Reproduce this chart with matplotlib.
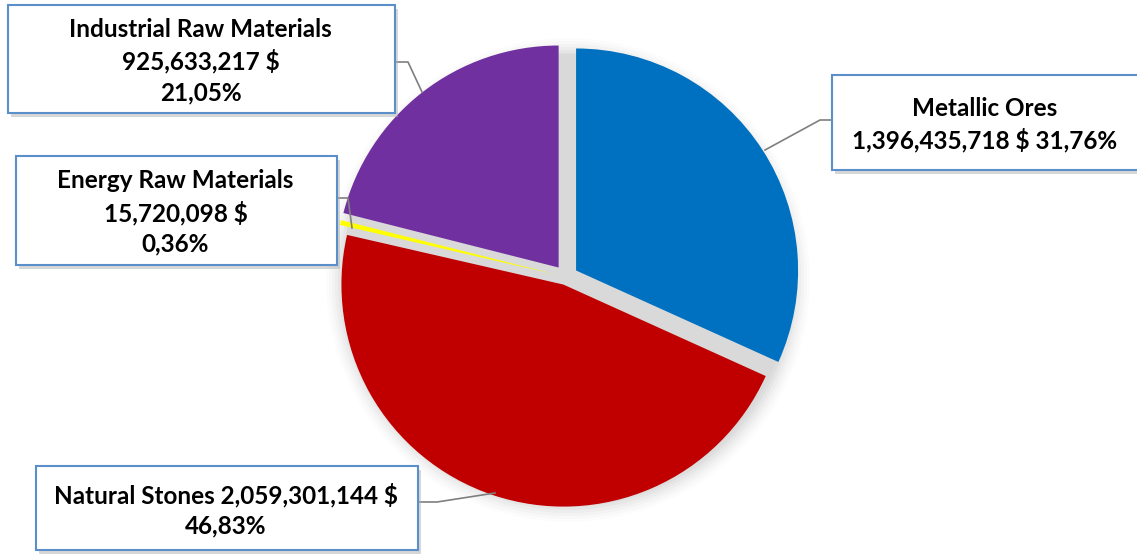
import matplotlib
matplotlib.use("Agg")
import matplotlib.pyplot as plt
from matplotlib.patches import Rectangle, Circle

# data
names = ["Metallic Ores", "Natural Stones", "Energy Raw Materials", "Industrial Raw Materials"]
values = [1396435718, 2059301144, 15720098, 925633217]
colors = ["#0070C0", "#C00000", "#FFFF00", "#7030A0"]
# how name / value / percent are split on lines in each box
seps = [("\n", " "), (" ", "\n"), ("\n", "\n"), ("\n", "\n")]

W, H = 1137, 554
fig = plt.figure(figsize=(W / 100, H / 100), dpi=100)
ax = fig.add_axes([0, 0, 1, 1])

cx, cy, R = 566, 277, 222

# soft shadow behind the pie
for i, a in enumerate([0.025, 0.03, 0.04, 0.05, 0.06, 0.07]):
    ax.add_patch(Circle((cx + 2, cy + 3), R + 20 - 3 * i, color="#808080", alpha=a, lw=0, zorder=0))
ax.add_patch(Circle((cx + 1, cy + 2), R + 3, color="#d9d9d9", lw=0, zorder=0.5))

# y axis is inverted (pixel coords), so startangle=-90 + counterclock draws clockwise from top
# explode is in data units (pixels) here
wedges, _ = ax.pie(values, colors=colors, startangle=-90, counterclock=True,
                   center=(cx, cy), radius=R, explode=[12, 8, 10, 12],
                   wedgeprops=dict(lw=0, zorder=1))

total = sum(values)
labels = []
for n, v, (s1, s2) in zip(names, values, seps):
    pct = f"{100 * v / total:.2f}%".replace(".", ",")
    labels.append(f"{n}{s1}{v:,} ${s2}{pct}")

# boxes: x0, y0, x1, y1 (pixels, y down)
boxes = [(832, 75, 1145, 170), (36, 466, 418, 550), (16, 156, 337, 265), (8, 5, 395, 113)]
leaders = [
    [(765, 150), (820, 120), (832, 120)],
    [(495, 493), (437, 502), (418, 502)],
    [(352, 228), (348, 198), (337, 198)],
    [(422, 92), (408, 62), (395, 62)],
]

for lbl, (x0, y0, x1, y1), pts in zip(labels, boxes, leaders):
    xs, ys = zip(*pts)
    ax.plot(xs, ys, color="#7f7f7f", lw=1.2, zorder=2)
    ax.add_patch(Rectangle((x0 + 3, y0 + 4), x1 - x0, y1 - y0, color="#b0b0b0", alpha=0.5, lw=0, zorder=3))
    ax.add_patch(Rectangle((x0, y0), x1 - x0, y1 - y0, facecolor="white",
                           edgecolor="#5B8FC9", lw=1.5, zorder=4))
    ax.text((x0 + min(x1, W)) / 2 - (1 if x1 < W else 0), (y0 + y1) / 2 + 2, lbl,
            ha="center", va="center", fontsize=17.5, fontweight="bold",
            family="Lato", linespacing=1.4, color="black", zorder=5)

ax.set_xlim(0, W)
ax.set_ylim(H, 0)
ax.set_aspect("equal")
ax.axis("off")

fig.savefig("out.png", dpi=100, facecolor="white")
